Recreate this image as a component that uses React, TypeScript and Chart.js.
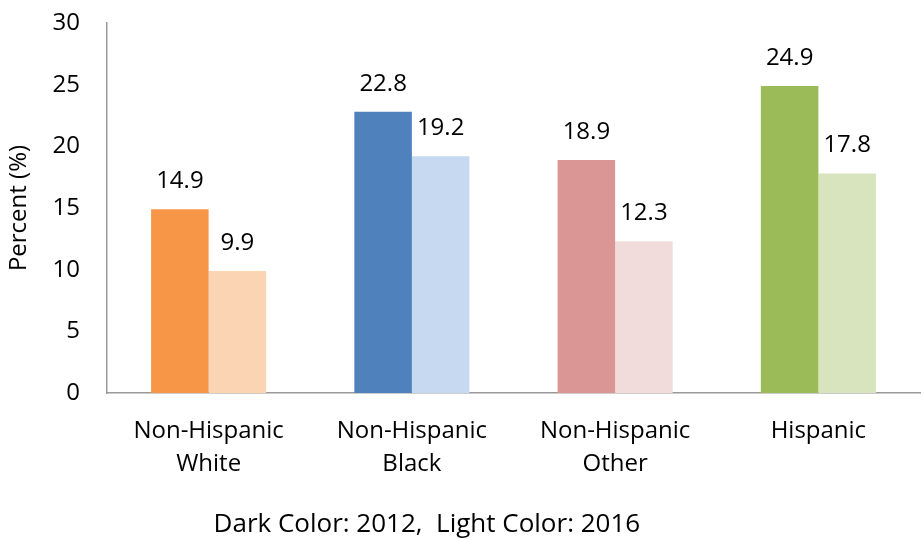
import React, { useEffect, useRef } from "react";
import { Chart, registerables } from "chart.js";

Chart.register(...registerables);

const categories: string[][] = [
  ["Non-Hispanic", "White"],
  ["Non-Hispanic", "Black"],
  ["Non-Hispanic", "Other"],
  ["Hispanic"],
];
const values2012: number[] = [14.9, 22.8, 18.9, 24.9];
const values2016: number[] = [9.9, 19.2, 12.3, 17.8];
const darkColors: string[] = ["#F79646", "#4F81BD", "#D99694", "#9BBB59"];
const lightColors: string[] = ["#FBD4B4", "#C6D9F1", "#F2DCDB", "#D7E4BD"];
const yTicks: number[] = [0, 5, 10, 15, 20, 25, 30];
const yTitle = "Percent (%)";
const footer = "Dark Color: 2012,  Light Color: 2016";

const FONT = "'Open Sans', 'Noto Sans', sans-serif";
const FS = 24;

const labelPlugin = {
  id: "valueLabels",
  afterDatasetsDraw(chart: any) {
    const ctx = chart.ctx;
    ctx.save();
    ctx.font = `${FS}px ${FONT}`;
    ctx.fillStyle = "#000";
    ctx.textAlign = "center";
    ctx.textBaseline = "middle";
    chart.data.datasets.forEach((ds: any, di: number) => {
      const meta = chart.getDatasetMeta(di);
      meta.data.forEach((bar: any, i: number) => {
        ctx.fillText(ds.data[i].toFixed(1), bar.x, bar.y - 28);
      });
    });
    ctx.restore();
  },
};

const footerPlugin = {
  id: "footerText",
  afterDraw(chart: any) {
    const ctx = chart.ctx;
    ctx.save();
    ctx.font = `26px ${FONT}`;
    ctx.fillStyle = "#000";
    ctx.textAlign = "center";
    ctx.textBaseline = "middle";
    ctx.fillText(footer, chart.width * 0.462, chart.height - 15);
    ctx.restore();
  },
};

export default function App() {
  const ref = useRef<HTMLCanvasElement>(null);
  useEffect(() => {
    if (!ref.current) return;
    const chart = new Chart(ref.current, {
      type: "bar",
      data: {
        labels: categories,
        datasets: [
          {
            label: "2012",
            data: values2012,
            backgroundColor: darkColors,
            barPercentage: 1,
            categoryPercentage: 0.566,
          },
          {
            label: "2016",
            data: values2016,
            backgroundColor: lightColors,
            barPercentage: 1,
            categoryPercentage: 0.566,
          },
        ],
      },
      options: {
        animation: false,
        responsive: false,
        layout: { padding: { top: 23, right: 4, left: 0, bottom: 0 } },
        plugins: {
          legend: { display: false },
          tooltip: { enabled: false },
        },
        scales: {
          x: {
            grid: { display: false, drawTicks: false },
            border: { color: "#999999", width: 1.5 },
            ticks: {
              color: "#000",
              font: { family: FONT, size: FS, lineHeight: 1.4 },
              padding: 21,
              maxRotation: 0,
            },
            afterFit: (s: any) => {
              s.height = 147;
              s.paddingLeft = 0;
              s.paddingRight = 0;
            },
          },
          y: {
            min: 0,
            max: 30,
            grid: { display: false, drawTicks: false },
            border: { color: "#999999", width: 1.5 },
            afterBuildTicks: (s: any) => {
              s.ticks = yTicks.map((v) => ({ value: v }));
            },
            ticks: {
              color: "#000",
              font: { family: FONT, size: FS },
              padding: 27,
            },
            title: {
              display: true,
              text: yTitle,
              color: "#000",
              font: { family: FONT, size: FS },
              padding: { top: 5, bottom: 0 },
            },
            afterFit: (s: any) => {
              s.width = 107;
              s.paddingTop = 0;
              s.paddingBottom = 0;
            },
          },
        },
      },
      plugins: [labelPlugin, footerPlugin],
    });
    return () => chart.destroy();
  }, []);
  return (
    <div style={{ position: "fixed", left: 0, top: 0, width: 924, height: 540, background: "#fff" }}>
      <canvas ref={ref} width={924} height={540} />
    </div>
  );
}
